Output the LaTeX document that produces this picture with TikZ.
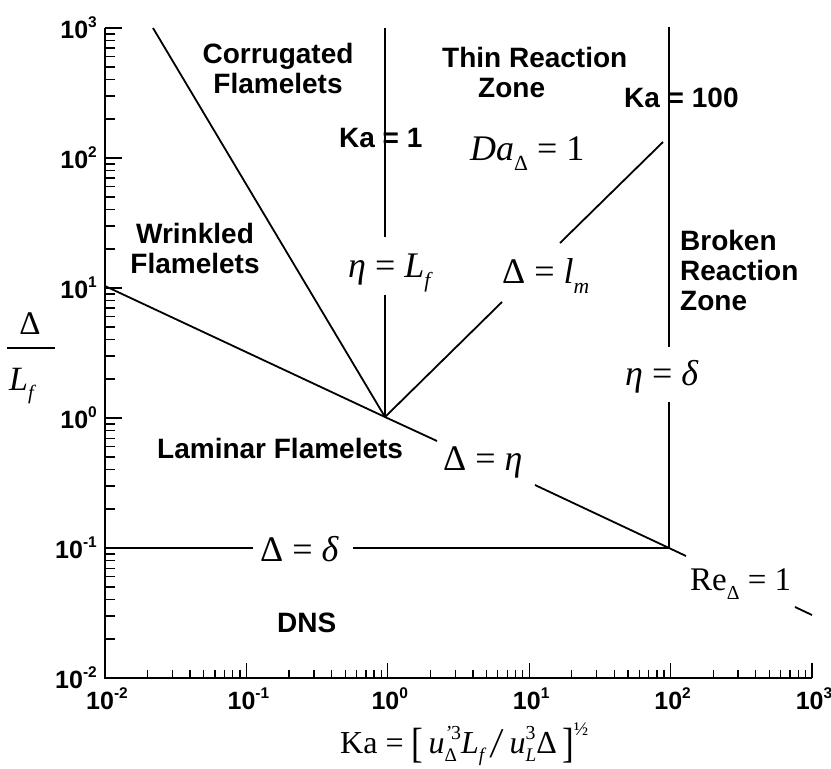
\documentclass[tikz,border=0pt]{standalone}
\usepackage{fontspec}
\setmainfont{Liberation Serif}
\setsansfont{Liberation Sans}
\usepackage{graphicx}
\newcommand\Sb[1]{\raisebox{-0.28em}{\scalebox{0.6}{#1}}}
\newcommand\Sp[1]{\raisebox{0.42em}{\scalebox{0.62}{#1}}}
\newcommand\Bg[1]{\raisebox{-0.14em}{\scalebox{1.1}[1.32]{#1}}}
\tikzset{
  curve/.style={line width=1.8pt},
  axisline/.style={line width=2.2pt},
  tickmark/.style={line width=1.3pt},
  regionlab/.style={font=\fontsize{28}{30}\selectfont\sffamily\bfseries, inner sep=0pt},
  mathlab/.style={font=\fontsize{36}{38}\selectfont, inner sep=0pt, anchor=base west},
  ticklab/.style={font=\fontsize{25}{25}\selectfont\sffamily\bfseries, inner sep=0pt},
}
\begin{document}
\begin{tikzpicture}[x=1pt,y=-1pt]
\useasboundingbox (0,0) rectangle (831,769);
% axes
\coordinate (otop) at (105,28);
\coordinate (orig) at (105,678);
\coordinate (oright) at (812,678);
\draw[axisline] (otop) -- (orig) -- (oright);
% y ticks
\foreach \d in {-2,...,2}{
  \foreach \m in {2,...,9}{
    \draw[tickmark] (105,{678-(\d+2+log10(\m))*130}) -- ++(10,0);
  }
}
\foreach \d in {-1,...,3}{
  \draw[tickmark] (105,{678-(\d+2)*130}) -- ++(17,0);
}
% x ticks
\foreach \d in {-2,...,2}{
  \foreach \m in {2,...,9}{
    \draw[tickmark] ({105+(\d+2+log10(\m))*141.4},678) -- ++(0,-8);
  }
}
\foreach \d in {-1,...,3}{
  \draw[tickmark] ({105+(\d+2)*141.4},678) -- ++(0,-15);
}
% tick labels
\foreach \d in {-2,...,3}{
  \node[ticklab, anchor=base east] (yl\d) at (97,{678-(\d+2)*130+10}) {10\Sp{\d}};
  \node[ticklab, anchor=base] (xl\d) at ({107+(\d+2)*141.4},709) {10\Sp{\d}};
}
% key points
\coordinate (P) at (385,417);
\coordinate (Q) at (669,548);
% Ka = 1
\coordinate (ka1top) at (385,28);
\coordinate (ka1gapA) at (385,237);
\coordinate (ka1gapB) at (385,295);
\draw[curve] (ka1top) -- (ka1gapA);
\draw[curve] (ka1gapB) -- (P);
% Ka = 100
\coordinate (ka2top) at (669,27);
\coordinate (ka2gapA) at (669,347);
\coordinate (ka2gapB) at (669,402);
\draw[curve] (ka2top) -- (ka2gapA);
\draw[curve] (ka2gapB) -- (Q);
% corrugated / wrinkled boundary
\coordinate (ctop) at (153,28);
\draw[curve] (ctop) -- (P);
% Delta = eta
\coordinate (eL) at (105,286);
\coordinate (egA) at (437,441);
\coordinate (egB) at (535,485);
\coordinate (eR) at (686,556);
\coordinate (reA) at (795,607);
\coordinate (reB) at (812,615);
\draw[curve] (eL) -- (P) -- (egA);
\draw[curve] (egB) -- (Q) -- (eR);
\draw[curve] (reA) -- (reB);
% Delta = l_m
\coordinate (lgA) at (502,302);
\coordinate (lgB) at (560,243);
\coordinate (lT) at (663,142);
\draw[curve] (P) -- (lgA);
\draw[curve] (lgB) -- (lT);
% Delta = delta
\coordinate (dL) at (105,548);
\coordinate (dgA) at (253,548);
\coordinate (dgB) at (353,548);
\draw[curve] (dL) -- (dgA);
\draw[curve] (dgB) -- (Q);
% region labels
\node[regionlab, anchor=north, align=center] (corr) at (278,43) {Corrugated\\Flamelets};
\node[regionlab, anchor=north west, align=left] (thin) at (442,47) {Thin Reaction\\\hspace*{36pt}Zone};
\node[regionlab, anchor=base west] (kaone) at (339,147) {Ka = 1};
\node[regionlab, anchor=base west] (kahund) at (624,107) {Ka = 100};
\node[regionlab, anchor=north, align=center] (wrink) at (195,223) {Wrinkled\\Flamelets};
\node[regionlab, anchor=north west, align=left] (broken) at (680,230) {Broken\\Reaction\\Zone};
\node[regionlab, anchor=base west] (lam) at (157,458) {Laminar Flamelets};
\node[regionlab, anchor=base west] (dns) at (277,632) {DNS};
% math labels
\node[mathlab] (da) at (470,160) {\textit{Da}\Sb{Δ} = 1};
\node[mathlab] (etaL) at (348,277) {\textit{η} = \textit{L}\Sb{\textit{f}}};
\node[mathlab] (dlm) at (502,283) {Δ = \textit{l}\Sb{\textit{m}}};
\node[mathlab] (etad) at (625,385) {\textit{η} = \textit{δ}};
\node[mathlab] (deta) at (443,470) {Δ = \textit{η}};
\node[mathlab] (dd) at (260,561) {Δ = \textit{δ}};
\node[mathlab, font=\fontsize{33}{36}\selectfont] (re) at (690,590) {Re\Sb{Δ} = 1};
% y axis label
\node[font=\fontsize{33}{33}\selectfont, inner sep=0pt, anchor=base] (ynum) at (30,334) {Δ};
\coordinate (ybarL) at (7,348);
\coordinate (ybarR) at (55,348);
\draw[line width=2.8pt] (ybarL) -- (ybarR);
\node[font=\fontsize{34}{34}\selectfont, inner sep=0pt, anchor=base west] (yden) at (9,390) {\textit{L}\Sb{\textit{f}}};
% x axis label
\node[font=\fontsize{32}{32}\selectfont, inner sep=0pt, anchor=base west] (xtitle) at (340,753)
 {Ka = \Bg{[}\,\textit{u}\rlap{\Sb{Δ}}\Sp{\textit{'}3}\textit{L}\Sb{\textit{f}}\,\Bg{\textit{/}}\,\textit{u}\rlap{\Sp{3}}\Sb{\textit{L}}Δ\,\Bg{]}\raisebox{0.55em}{\scalebox{0.6}{½}}};
\end{tikzpicture}
\end{document}
